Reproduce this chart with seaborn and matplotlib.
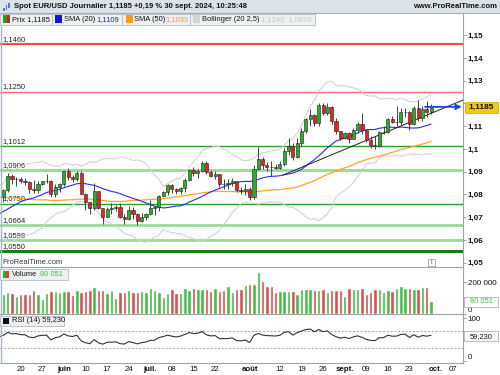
import numpy as np
import pandas as pd
import matplotlib
matplotlib.use("Agg")
import matplotlib.pyplot as plt
import seaborn as sns
from matplotlib.patches import Rectangle
from matplotlib.lines import Line2D

sns.set_style("white")
plt.rcParams["font.family"] = ["Liberation Sans", "DejaVu Sans"]

# ---------------- data ----------------
# closes before the visible window (4 Mar - 13 May 2024), used only as indicator warm-up
prior_close = [1.0855, 1.0855, 1.0900, 1.0947, 1.0938, 1.0927, 1.0927, 1.0948, 1.0883, 1.0890,
               1.0867, 1.0865, 1.0922, 1.0860, 1.0808, 1.0838, 1.0830, 1.0826, 1.0790, 1.0791,
               1.0742, 1.0770, 1.0835, 1.0837, 1.0838, 1.0860, 1.0858, 1.0742, 1.0727, 1.0642,
               1.0624, 1.0617, 1.0672, 1.0644, 1.0656, 1.0655, 1.0704, 1.0729, 1.0731, 1.0693,
               1.0719, 1.0665, 1.0713, 1.0728, 1.0761, 1.0771, 1.0754, 1.0749, 1.0783, 1.0769,
               1.0790]

first_day = "2024-05-14"

open_ = [1.0790, 1.0819, 1.0883, 1.0866, 1.0870, 1.0857, 1.0855, 1.0825, 1.0818, 1.0847,
         1.0858, 1.0859, 1.0800, 1.0833, 1.0848, 1.0903, 1.0877, 1.0869, 1.0893, 1.0801,
         1.0765, 1.0740, 1.0815, 1.0739, 1.0701, 1.0738, 1.0740, 1.0747, 1.0702, 1.0693,
         1.0733, 1.0713, 1.0683, 1.0703, 1.0713, 1.0740, 1.0743, 1.0792, 1.0810, 1.0840,
         1.0825, 1.0813, 1.0830, 1.0864, 1.0907, 1.0894, 1.0903, 1.0938, 1.0898, 1.0883,
         1.0890, 1.0846, 1.0845, 1.0849, 1.0857, 1.0819, 1.0816, 1.0826, 1.0790, 1.0910,
         1.0955, 1.0930, 1.0922, 1.0920, 1.0916, 1.0932, 1.0993, 1.1012, 1.0966, 1.1027,
         1.1077, 1.1130, 1.1151, 1.1113, 1.1193, 1.1160, 1.1184, 1.1122, 1.1078, 1.1048,
         1.1070, 1.1045, 1.1083, 1.1111, 1.1083, 1.1040, 1.1017, 1.1012, 1.1075, 1.1076,
         1.1133, 1.1117, 1.1118, 1.1161, 1.1163, 1.1111, 1.1179, 1.1134, 1.1175, 1.1164]
high = [1.0825, 1.0895, 1.0888, 1.0878, 1.0878, 1.0873, 1.0861, 1.0862, 1.0858, 1.0861,
        1.0889, 1.0862, 1.0848, 1.0852, 1.0904, 1.0916, 1.0885, 1.0902, 1.0902, 1.0805,
        1.0768, 1.0852, 1.0817, 1.0742, 1.0745, 1.0761, 1.0752, 1.0762, 1.0716, 1.0748,
        1.0745, 1.0719, 1.0720, 1.0719, 1.0776, 1.0748, 1.0797, 1.0816, 1.0844, 1.0845,
        1.0830, 1.0833, 1.0871, 1.0910, 1.0922, 1.0912, 1.0948, 1.0945, 1.0908, 1.0903,
        1.0892, 1.0866, 1.0869, 1.0871, 1.0858, 1.0834, 1.0846, 1.0833, 1.0928, 1.1009,
        1.0965, 1.0944, 1.0946, 1.0933, 1.0945, 1.1002, 1.1047, 1.1028, 1.1048, 1.1092,
        1.1135, 1.1174, 1.1155, 1.1201, 1.1202, 1.1202, 1.1187, 1.1138, 1.1080, 1.1075,
        1.1074, 1.1090, 1.1120, 1.1156, 1.1085, 1.1058, 1.1059, 1.1077, 1.1101, 1.1136,
        1.1147, 1.1189, 1.1180, 1.1180, 1.1167, 1.1188, 1.1214, 1.1190, 1.1210, 1.1196]
low = [1.0767, 1.0810, 1.0848, 1.0835, 1.0849, 1.0840, 1.0805, 1.0805, 1.0805, 1.0840,
       1.0852, 1.0788, 1.0788, 1.0812, 1.0838, 1.0863, 1.0854, 1.0860, 1.0801, 1.0732,
       1.0714, 1.0732, 1.0735, 1.0668, 1.0700, 1.0715, 1.0729, 1.0696, 1.0671, 1.0689,
       1.0692, 1.0667, 1.0677, 1.0686, 1.0710, 1.0710, 1.0729, 1.0787, 1.0796, 1.0805,
       1.0802, 1.0802, 1.0811, 1.0858, 1.0882, 1.0873, 1.0900, 1.0888, 1.0876, 1.0870,
       1.0833, 1.0825, 1.0826, 1.0838, 1.0810, 1.0802, 1.0796, 1.0777, 1.0778, 1.0908,
       1.0911, 1.0904, 1.0882, 1.0911, 1.0910, 1.0926, 1.0975, 1.0950, 1.0960, 1.1014,
       1.1070, 1.1100, 1.1103, 1.1100, 1.1150, 1.1151, 1.1110, 1.1065, 1.1040, 1.1043,
       1.1026, 1.1042, 1.1070, 1.1067, 1.1032, 1.1002, 1.1001, 1.1009, 1.1066, 1.1072,
       1.1115, 1.1099, 1.1105, 1.1142, 1.1083, 1.1105, 1.1123, 1.1125, 1.1142, 1.1154]
close = [1.0819, 1.0883, 1.0866, 1.0870, 1.0857, 1.0855, 1.0825, 1.0818, 1.0847, 1.0858,
         1.0859, 1.0800, 1.0833, 1.0848, 1.0903, 1.0877, 1.0869, 1.0893, 1.0801, 1.0765,
         1.0740, 1.0815, 1.0739, 1.0701, 1.0738, 1.0740, 1.0747, 1.0702, 1.0693, 1.0733,
         1.0713, 1.0683, 1.0703, 1.0713, 1.0740, 1.0743, 1.0792, 1.0810, 1.0840, 1.0825,
         1.0813, 1.0830, 1.0864, 1.0907, 1.0894, 1.0903, 1.0938, 1.0898, 1.0883, 1.0890,
         1.0846, 1.0845, 1.0849, 1.0857, 1.0819, 1.0816, 1.0826, 1.0790, 1.0910, 1.0955,
         1.0930, 1.0922, 1.0920, 1.0916, 1.0932, 1.0993, 1.1012, 1.0966, 1.1027, 1.1077,
         1.1130, 1.1151, 1.1113, 1.1193, 1.1160, 1.1184, 1.1122, 1.1078, 1.1048, 1.1070,
         1.1045, 1.1083, 1.1111, 1.1083, 1.1040, 1.1017, 1.1012, 1.1075, 1.1076, 1.1133,
         1.1117, 1.1118, 1.1161, 1.1163, 1.1111, 1.1179, 1.1134, 1.1175, 1.1164, 1.1185]
volume = [125, 135, 129, 114, 125, 125, 125, 148, 125, 95,
          131, 142, 144, 140, 146, 146, 118, 148, 140, 146,
          148, 168, 150, 150, 131, 150, 99, 135, 138, 150,
          140, 140, 144, 140, 161, 150, 140, 104, 131, 157,
          133, 133, 161, 150, 163, 154, 154, 154, 144, 161,
          144, 150, 176, 140, 157, 154, 182, 187, 187, 268,
          208, 178, 178, 136, 144, 146, 146, 144, 123, 155,
          155, 155, 150, 150, 155, 136, 150, 150, 148, 112,
          161, 157, 157, 161, 125, 136, 159, 157, 140, 152,
          146, 161, 178, 161, 161, 155, 157, 167, 167, 80.051]
volume = [v * 1000 for v in volume]

levels = [1.1460, 1.1250, 1.1012, 1.0906, 1.0758, 1.0664, 1.0598, 1.0550]
level_labels = ["1,1460", "1,1250", "1,1012", "1,0906", "1,0758", "1,0664", "1,0598", "1,0550"]
level_colors = ["#ff4646", "#ff6a6a", "#2f9e2f", "#9bd89b", "#2f9e2f", "#9bd89b", "#9bd89b", "#1c7c1c"]
level_widths = [1.5, 1.0, 1.0, 2.0, 1.0, 2.0, 2.0, 2.2]

trend_x = [64.7, 106.4]
trend_y = [1.0885, 1.1215]

tick_dates = ["2024-05-20", "2024-05-27", "2024-06-03", "2024-06-10", "2024-06-17", "2024-06-24",
              "2024-07-01", "2024-07-08", "2024-07-15", "2024-07-22", "2024-08-01", "2024-08-12",
              "2024-08-19", "2024-08-26", "2024-09-02", "2024-09-09", "2024-09-16", "2024-09-23",
              "2024-10-01", "2024-10-07"]
tick_labels = ["20", "27", "juin", "10", "17", "24", "juil.", "08", "15", "22", "août", "12",
               "19", "26", "sept.", "09", "16", "23", "oct.", "07"]

price_ticks = [1.05, 1.06, 1.07, 1.08, 1.09, 1.10, 1.11, 1.12, 1.13, 1.14, 1.15]
price_tick_labels = ["1,05", "1,06", "1,07", "1,08", "1,09", "1,1", "1,11", "", "1,13", "1,14", "1,15"]
vol_ticks = [0, 100000, 200000]
vol_tick_labels = ["0", "", "200 000"]
rsi_ticks = [0, 50, 100]
rsi_tick_labels = ["0", "", "100"]

# ---------------- indicators ----------------
n_prior = len(prior_close)
allc = pd.Series(prior_close + close)
xall = np.arange(-n_prior, len(close))
sma20 = allc.rolling(20).mean()
sma50 = allc.rolling(50).mean()
sd20 = allc.rolling(20).std(ddof=0)
bb_up = sma20 + 2.5 * sd20
bb_dn = sma20 - 2.5 * sd20
delta = allc.diff()
gain = delta.clip(lower=0).ewm(alpha=1 / 14, adjust=False).mean()
loss = (-delta.clip(upper=0)).ewm(alpha=1 / 14, adjust=False).mean()
rsi = 100 - 100 / (1 + gain / loss)

# ---------------- figure ----------------
W, H = 500, 375
fig = plt.figure(figsize=(5, 3.75), dpi=100)
FS = 5.4


def rect(x0, y0, x1, y1):
    return [x0 / W, 1 - y1 / H, (x1 - x0) / W, (y1 - y0) / H]


def frect(x0, y0, x1, y1, **kw):
    r = Rectangle((x0 / W, 1 - y1 / H), (x1 - x0) / W, (y1 - y0) / H,
                  transform=fig.transFigure, **kw)
    fig.add_artist(r)
    return r


def ftext(x, y, s, **kw):
    kw.setdefault("fontsize", FS)
    kw.setdefault("va", "center")
    kw.setdefault("color", "#111111")
    return fig.text(x / W, 1 - y / H, s, **kw)


def fline(x0, y0, x1, y1, **kw):
    fig.add_artist(Line2D([x0 / W, x1 / W], [1 - y0 / H, 1 - y1 / H],
                          transform=fig.transFigure, **kw))


XL = (-0.787, 106.39)
ax_p = fig.add_axes(rect(0, 13, 463, 266.5))
ax_v = fig.add_axes(rect(0, 266.5, 463, 314))
ax_r = fig.add_axes(rect(0, 314, 463, 362.5))

x = np.arange(len(close))
up = np.array(close) >= np.array(open_)
GREEN, RED = "#2aae2a", "#e02424"

for ax in (ax_p, ax_v, ax_r):
    ax.set_xlim(*XL)
    for s in ("top", "left", "bottom"):
        ax.spines[s].set_visible(False)
    ax.spines["right"].set_color("#9aa4ac")
    ax.spines["right"].set_linewidth(0.8)
    ax.yaxis.tick_right()
    ax.tick_params(axis="y", direction="out", length=2, width=0.5, color="#777777",
                   pad=1.5, labelsize=FS + 0.4, labelcolor="#111111")
    ax.set_xticks([])
    ax.set_facecolor("white")

# ----- price panel -----
ax_p.set_ylim(1.04833, 1.15976)
for lv, lab, c, w in zip(levels, level_labels, level_colors, level_widths):
    ax_p.axhline(lv, color=c, lw=w, zorder=1)
    ax_p.text(0.006, lv + 0.0007, lab, transform=ax_p.get_yaxis_transform(),
              fontsize=FS, color="#222222", va="bottom", ha="left", zorder=2)

sns.lineplot(x=xall, y=bb_up, ax=ax_p, color="#d2d2d2", lw=0.8, zorder=2)
sns.lineplot(x=xall, y=bb_dn, ax=ax_p, color="#d2d2d2", lw=0.8, zorder=2)
sns.lineplot(x=xall, y=sma50, ax=ax_p, color="#ffa424", lw=0.9, zorder=3)
sns.lineplot(x=xall, y=sma20, ax=ax_p, color="#2a2af0", lw=0.8, zorder=3)
ax_p.plot(trend_x, trend_y, color="#222222", lw=0.7, zorder=4)

ax_p.vlines(x, low, high, color="#444444", lw=0.7, zorder=5)
body_lo = np.minimum(open_, close)
body_h = np.maximum(np.abs(np.array(close) - np.array(open_)), 0.00012)
ax_p.bar(x, body_h, bottom=body_lo, width=0.72,
         color=[GREEN if u else RED for u in up], edgecolor="#1e1e1e", lw=0.4, zorder=6)

ax_p.annotate("", xy=(106.1, close[-1]), xytext=(97.6, close[-1]),
              arrowprops=dict(arrowstyle="-|>", color="#1f45e6", lw=1.3,
                              mutation_scale=8, shrinkA=0, shrinkB=0), zorder=7)

ax_p.set_yticks(price_ticks)
ax_p.set_yticklabels(price_tick_labels, fontweight="bold")
ax_p.set_xlabel("")
ax_p.set_ylabel("")

# ----- volume panel -----
ax_v.set_ylim(-3200, 300800)
ax_v.bar(x, volume, width=0.8, color=["#45bd45" if u else "#d65252" for u in up], zorder=3)
ax_v.set_yticks(vol_ticks)
ax_v.set_yticklabels(vol_tick_labels)
ax_v.get_yticklabels()[0].set_va("bottom")

# ----- RSI panel -----
ax_r.set_ylim(-4.1, 110)
for lvl in (70, 30):
    ax_r.axhline(lvl, color="#9a9a9a", lw=0.6, ls=(0, (2.5, 2)))
sns.lineplot(x=xall, y=rsi, ax=ax_r, color="#333333", lw=0.8)
ax_r.set_yticks(rsi_ticks)
ax_r.set_yticklabels(rsi_tick_labels)
ax_r.get_yticklabels()[0].set_va("bottom")
ax_r.set_xlabel("")
ax_r.set_ylabel("")
ax_r.spines["bottom"].set_visible(True)
ax_r.spines["bottom"].set_color("#9aa4ac")
ax_r.spines["bottom"].set_linewidth(0.8)

all_days = pd.bdate_range(first_day, "2024-10-31")
tpos = all_days.get_indexer(pd.to_datetime(tick_dates))
ax_r.set_xticks(tpos)
ax_r.set_xticklabels(tick_labels)
ax_r.tick_params(axis="x", length=0, pad=2.2, labelsize=FS + 0.3, labelcolor="#111111")
for t in ax_r.get_xticklabels():
    if not t.get_text()[0].isdigit():
        t.set_fontweight("bold")
ax_r.set_xlim(*XL)

# ---------------- chrome ----------------
frect(0, 0, 500, 13, fc="#dbe3e8", ec="none", zorder=1)
fline(0, 13, 500, 13, color="#a3afb8", lw=0.8)
fline(0.5, 13, 0.5, 362.5, color="#a8b8c6", lw=1.0)
fline(0, 266.5, 463, 266.5, color="#9aa4ac", lw=0.8)
fline(0, 314, 463, 314, color="#9aa4ac", lw=0.8)
# header icon
for i, (h0, h1) in enumerate([(8, 11), (5, 10), (3, 8)]):
    frect(3 + i * 2.6, h0, 4.6 + i * 2.6, h1, fc="#3f7fd0", ec="none", zorder=2)
ftext(14, 6.6, "Spot EUR/USD Journalier 1,1185 +0,19 % 30 sept. 2024, 10:25:48",
      fontweight="bold", fontsize=FS + 0.1)
ftext(497, 6.6, "www.ProRealTime.com", fontweight="bold", ha="right", fontsize=FS + 0.1)

# legend row
LBG, LEC = "#eef0f2", "#b4bcc4"
frect(0, 13.5, 52, 24.5, fc=LBG, ec=LEC, lw=0.6, zorder=2)
frect(3, 15.5, 6.5, 22.5, fc="#22a022", ec="none", zorder=3)
frect(6.5, 15.5, 10, 22.5, fc="#d02020", ec="none", zorder=3)
ftext(12, 19.2, "Prix 1,1185")
frect(52, 13.5, 122, 24.5, fc=LBG, ec=LEC, lw=0.6, zorder=2)
frect(55, 15.5, 62, 22.5, fc="#1010f0", ec="none", zorder=3)
ftext(64, 19.2, "SMA (20)")
ftext(96.5, 19.2, "1,1109", color="#2020e0")
frect(122, 13.5, 190, 24.5, fc=LBG, ec=LEC, lw=0.6, zorder=2)
frect(126, 15.5, 133, 22.5, fc="#ff9a10", ec="none", zorder=3)
ftext(134.5, 19.2, "SMA (50)")
ftext(165, 19.2, "1,1033", color="#ff9a10")
frect(190, 13.5, 315, 24.5, fc=LBG, ec=LEC, lw=0.6, zorder=2)
frect(193, 15.5, 200, 22.5, fc="#d4d4d4", ec="none", zorder=3)
ftext(202, 19.2, "Bollinger (20 2,5)")
ftext(261, 19.2, "1,1243  1,0976", color="#c4c4c4")

# price label box
frect(465, 102.5, 498, 112.7, fc="#f2ca0e", ec="#c8a000", lw=0.5, zorder=4)
ftext(481.5, 107.7, "1,1185", ha="center", fontweight="bold", fontsize=FS + 0.6, zorder=5)

# bottom of price panel
ftext(2, 262.5, "ProRealTime.com", fontsize=FS, color="#333333")
frect(428, 258.5, 435, 265.5, fc="white", ec="#8a949c", lw=0.5, zorder=3)
ftext(431.5, 262, "i", ha="center", fontsize=FS - 0.5, color="#555555", zorder=4)

# volume legend
frect(0, 268.5, 68, 279.5, fc=LBG, ec=LEC, lw=0.6, zorder=2)
frect(3, 270.5, 6, 277.5, fc="#30b030", ec="none", zorder=3)
frect(6, 270.5, 9, 277.5, fc="#d84040", ec="none", zorder=3)
ftext(11.5, 274.2, "Volume")
ftext(40, 274.2, "80 051", color="#44c044")
frect(464, 296.8, 497.5, 306.5, fc="white", ec="#9aa4ac", lw=0.5, zorder=4)
ftext(481, 301.7, "80 051", ha="center", color="#44c044", zorder=5)

# RSI legend
frect(0, 315.5, 64, 326, fc=LBG, ec=LEC, lw=0.6, zorder=2)
frect(3, 317.5, 9, 324, fc="#111111", ec="none", zorder=3)
ftext(11.5, 321, "RSI (14) 59,230")
frect(464, 331.2, 497.5, 341.2, fc="white", ec="#9aa4ac", lw=0.5, zorder=4)
ftext(481, 336.2, "59,230", ha="center", zorder=5)

fig.savefig("out.png", dpi=100)
